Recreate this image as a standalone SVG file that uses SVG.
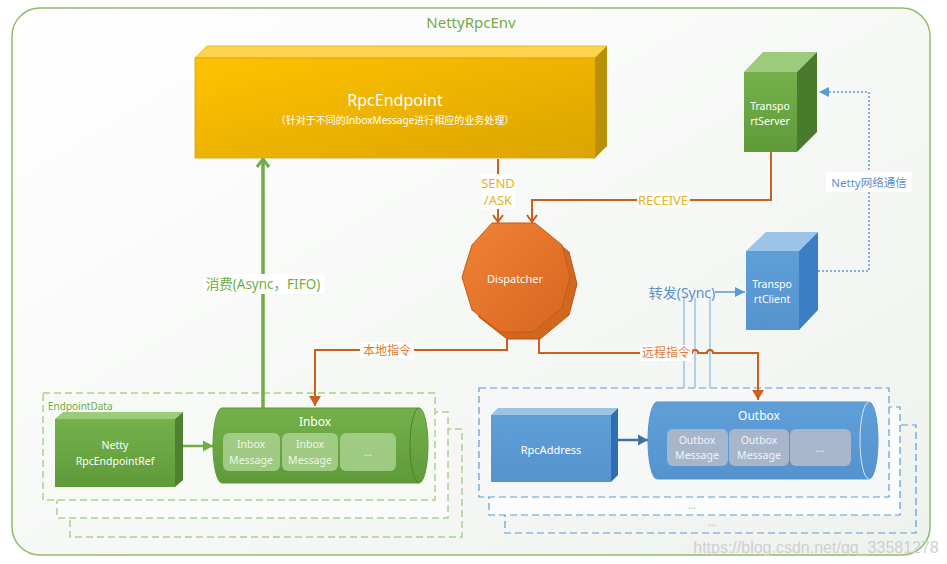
<svg xmlns="http://www.w3.org/2000/svg" width="947" height="564" viewBox="0 0 947 564">
<style>
text{font-family:"Noto Sans","Noto Sans CJK SC",sans-serif;text-anchor:middle;dominant-baseline:central}
.w{fill:#ffffff}
.olab{fill:#e07b39;font-size:12px}
.glab{fill:#e3b21d;font-size:13px}
.msgt{fill:#eef6e8;font-size:10.5px}
.omsgt{fill:#eef3fa;font-size:10.5px}
.orange{fill:none;stroke:#c9601d;stroke-width:2}
</style>
<defs>
<linearGradient id="bg" x1="0" y1="0" x2="1" y2="1"><stop offset="0" stop-color="#ffffff"/><stop offset="1" stop-color="#eef2ee"/></linearGradient>
<linearGradient id="gold" x1="0" y1="0" x2="1" y2="1"><stop offset="0" stop-color="#ffc200"/><stop offset="1" stop-color="#dba400"/></linearGradient>
<linearGradient id="orng" x1="0" y1="0" x2="1" y2="1"><stop offset="0" stop-color="#f08236"/><stop offset="1" stop-color="#d8661f"/></linearGradient>
<linearGradient id="grn" x1="0" y1="0" x2="0" y2="1"><stop offset="0" stop-color="#74b14a"/><stop offset="1" stop-color="#5f9a39"/></linearGradient>
<linearGradient id="blu" x1="0" y1="0" x2="0" y2="1"><stop offset="0" stop-color="#5f9fd8"/><stop offset="1" stop-color="#5593cf"/></linearGradient>
<marker id="chevG" markerUnits="userSpaceOnUse" markerWidth="16" markerHeight="16" refX="13" refY="8" orient="auto"><path d="M5,2 L13,8 L5,14" fill="none" stroke="#70ad47" stroke-width="3"/></marker>
<marker id="chevO" markerUnits="userSpaceOnUse" markerWidth="14" markerHeight="14" refX="11" refY="7" orient="auto"><path d="M4,2 L11,7 L4,12" fill="none" stroke="#c9601d" stroke-width="2"/></marker>
<marker id="triO" markerUnits="userSpaceOnUse" markerWidth="14" markerHeight="14" refX="12" refY="7" orient="auto"><path d="M2,1 L12,7 L2,13 Z" fill="#c9601d"/></marker>
<marker id="triG" markerUnits="userSpaceOnUse" markerWidth="14" markerHeight="14" refX="12" refY="7" orient="auto"><path d="M2,1.5 L12,7 L2,12.5 Z" fill="#70ad47"/></marker>
<marker id="triDB" markerUnits="userSpaceOnUse" markerWidth="14" markerHeight="14" refX="12" refY="7" orient="auto"><path d="M2,1.5 L12,7 L2,12.5 Z" fill="#41719c"/></marker>
<marker id="triB" markerUnits="userSpaceOnUse" markerWidth="14" markerHeight="14" refX="12" refY="7" orient="auto"><path d="M2,2 L12,7 L2,12 Z" fill="#5b9bd5"/></marker>
</defs>
<rect width="947" height="564" fill="#ffffff"/>
<g id="NettyRpcEnv">
<rect x="12" y="8" width="918" height="547" rx="28" fill="url(#bg)" stroke="#8fbc6e" stroke-width="1.5"/>
<text x="471" y="22" fill="#70ad47" font-size="15">NettyRpcEnv</text>
</g>
<g id="EndpointData">
<rect x="70" y="429" width="392" height="108" fill="none" stroke="#a9d18e" stroke-width="1.5" stroke-dasharray="7,4"/>
<rect x="57" y="412" width="391" height="106" fill="#fbfcfa" stroke="#a9d18e" stroke-width="1.5" stroke-dasharray="7,4"/>
<rect x="43" y="393" width="392" height="107" fill="#f7f9f5" stroke="#a9d18e" stroke-width="1.5" stroke-dasharray="7,4"/>
<text x="48" y="406" fill="#70ad47" font-size="10" style="text-anchor:start">EndpointData</text>
</g>
<g id="OutboxData">
<rect x="505" y="425" width="411" height="108" fill="none" stroke="#5b9bd5" stroke-width="1.2" stroke-dasharray="7,4"/>
<rect x="489" y="407" width="411" height="108" fill="#fbfcfc" stroke="#5b9bd5" stroke-width="1.2" stroke-dasharray="7,4"/>
<rect x="479" y="388" width="410" height="109" fill="#f6f8f8" stroke="#5b9bd5" stroke-width="1.2" stroke-dasharray="7,4"/>
<text x="692" y="505" fill="#a9c68e" font-size="10">...</text>
<text x="712" y="522" fill="#a9c68e" font-size="10">...</text>
</g>
<g id="connectors">
<line x1="263" y1="408" x2="263" y2="159" stroke="#70ad47" stroke-width="3.5" marker-end="url(#chevG)"/>
<rect x="203" y="274" width="121" height="20" fill="#ffffff"/>
<text x="263" y="284" fill="#70ad47" font-size="13.5">消费(Async，FIFO)</text>
<line x1="498" y1="159" x2="498" y2="222" class="orange" marker-end="url(#chevO)"/>
<rect x="482" y="174" width="32" height="35" fill="#ffffff"/>
<text x="498" y="183" class="glab">SEND</text>
<text x="498" y="200" class="glab">/ASK</text>
<polyline points="771,152 771,200 532,200 532,222" class="orange" marker-end="url(#chevO)"/>
<rect x="637" y="192" width="53" height="16" fill="#ffffff"/>
<text x="663" y="200" class="glab">RECEIVE</text>
<g stroke="#9dc3e6" stroke-width="1.5">
<line x1="684" y1="298" x2="684" y2="388"/>
<line x1="695" y1="298" x2="695" y2="388"/>
<line x1="710" y1="298" x2="710" y2="388"/>
</g>
<polyline points="507,338 507,350 315,350 315,406" class="orange" marker-end="url(#triO)"/>
<rect x="360" y="342" width="54" height="16" fill="#ffffff"/>
<text x="387" y="350" class="olab">本地指令</text>
<path d="M539,338 V353 H692 a3,3 0 0 1 6,0 H707 a3,3 0 0 1 6,0 H758 V400" class="orange" marker-end="url(#triO)"/>
<rect x="640" y="345" width="52" height="16" fill="#ffffff"/>
<text x="666" y="352" class="olab">远程指令</text>
<line x1="715" y1="292" x2="745" y2="292" stroke="#5b9bd5" stroke-width="1.5" marker-end="url(#triB)"/>
<text x="682" y="292" fill="#5b8fc9" font-size="14">转发(Sync)</text>
<polyline points="818,271 869,271 869,92 819,92" fill="none" stroke="#5b9bd5" stroke-width="1.5" stroke-dasharray="2,2" marker-end="url(#triB)"/>
<rect x="826" y="172" width="86" height="20" fill="#ffffff"/>
<text x="869" y="182" fill="#5b8fc9" font-size="11.5">Netty网络通信</text>
<line x1="183" y1="446" x2="213" y2="446" stroke="#70ad47" stroke-width="2.5" marker-end="url(#triG)"/>
<line x1="617" y1="440" x2="648" y2="440" stroke="#41719c" stroke-width="2.5" marker-end="url(#triDB)"/>
</g>
<g id="RpcEndpoint">
<polygon points="195,58 207,46 607,46 595,58" fill="#ffd34d" stroke="#e0b020" stroke-width="0.8"/>
<polygon points="595,58 607,46 607,146 595,158" fill="#b8900a"/>
<rect x="195" y="58" width="400" height="100" fill="url(#gold)" stroke="#d8a500" stroke-width="0.8"/>
<text x="395" y="100" class="w" font-size="16">RpcEndpoint</text>
<text x="395" y="120" class="w" font-size="10">（针对于不同的InboxMessage进行相应的业务处理）</text>
</g>
<g id="Dispatcher">
<polygon points="499,230 542,230 569,252 577,284 569,315 540,339 507,339 479,317 469,284 479,252" fill="#d2671f" stroke="#b95415" stroke-width="1"/>
<polygon points="492,223 535,223 562,245 570,277 562,308 533,332 500,332 472,310 462,277 472,245" fill="url(#orng)" stroke="#c55a11" stroke-width="1"/>
<text x="515" y="278" class="w" font-size="11">Dispatcher</text>
</g>
<g id="TransportServer">
<polygon points="744,72 763,52 817,52 797,72" fill="#9bcb7b"/>
<polygon points="797,72 817,52 817,132 797,152" fill="#4a7a2c"/>
<rect x="744" y="72" width="53" height="80" fill="url(#grn)"/>
<text x="770" y="106" class="w" font-size="10.5">Transpo</text>
<text x="770" y="121" class="w" font-size="10.5">rtServer</text>
</g>
<g id="TransportClient">
<polygon points="746,251 766,232 818,232 799,251" fill="#9dc3e6"/>
<polygon points="799,251 818,232 818,310 799,330" fill="#3a7fc4"/>
<rect x="746" y="251" width="53" height="79" fill="url(#blu)"/>
<text x="772" y="284" class="w" font-size="10.5">Transpo</text>
<text x="772" y="299" class="w" font-size="10.5">rtClient</text>
</g>
<g id="NettyRpcEndpointRef">
<polygon points="55,419 63,412 183,412 175,419" fill="#9bcb7b"/>
<polygon points="175,419 183,412 183,480 175,487" fill="#4f7f31"/>
<rect x="55" y="419" width="120" height="68" fill="url(#grn)"/>
<text x="115" y="445" class="w" font-size="10.5">Netty</text>
<text x="115" y="461" class="w" font-size="10.5">RpcEndpointRef</text>
</g>
<g id="Inbox">
<path d="M222,408 H419 A9,37.5 0 0 1 419,483 H222 A9,37.5 0 0 1 222,408 Z" fill="url(#grn)" stroke="#5e9a38" stroke-width="1"/>
<path d="M419,408 A9,37.5 0 0 0 419,483" fill="none" stroke="#4f7f31" stroke-width="1"/>
<text x="315" y="421" class="w" font-size="12">Inbox</text>
<rect x="223" y="433" width="57" height="38" rx="6" fill="#a9d18e" opacity="0.85"/>
<rect x="282" y="433" width="56" height="38" rx="6" fill="#a9d18e" opacity="0.85"/>
<rect x="340" y="433" width="56" height="38" rx="6" fill="#a9d18e" opacity="0.85"/>
<text x="251" y="444" class="msgt">Inbox</text>
<text x="251" y="460" class="msgt">Message</text>
<text x="310" y="444" class="msgt">Inbox</text>
<text x="310" y="460" class="msgt">Message</text>
<text x="368" y="452" class="msgt">...</text>
</g>
<g id="RpcAddress">
<polygon points="491,415 498,408 618,408 611,415" fill="#9dc3e6"/>
<polygon points="611,415 618,408 618,475 611,482" fill="#2f6fb0"/>
<rect x="491" y="415" width="120" height="67" fill="url(#blu)"/>
<text x="551" y="449" class="w" font-size="11">RpcAddress</text>
</g>
<g id="Outbox">
<path d="M657,402 H869 A9,38.5 0 0 1 869,479 H657 A9,38.5 0 0 1 657,402 Z" fill="url(#blu)" stroke="#5593cf" stroke-width="1"/>
<path d="M869,402 A9,38.5 0 0 0 869,479" fill="none" stroke="#d6e6f5" stroke-width="1"/>
<text x="759" y="415" class="w" font-size="12">Outbox</text>
<rect x="667" y="429" width="61" height="37" rx="6" fill="#a8b6cc"/>
<rect x="729" y="429" width="60" height="37" rx="6" fill="#a8b6cc"/>
<rect x="790" y="429" width="61" height="37" rx="6" fill="#a8b6cc"/>
<text x="697" y="440" class="omsgt">Outbox</text>
<text x="697" y="455" class="omsgt">Message</text>
<text x="759" y="440" class="omsgt">Outbox</text>
<text x="759" y="455" class="omsgt">Message</text>
<text x="820" y="448" class="omsgt">...</text>
</g>
<text x="816" y="547" fill="#cfcfcf" font-size="16" style="font-family:'Liberation Sans',sans-serif">https://blog.csdn.net/qq_33581278</text>
</svg>
